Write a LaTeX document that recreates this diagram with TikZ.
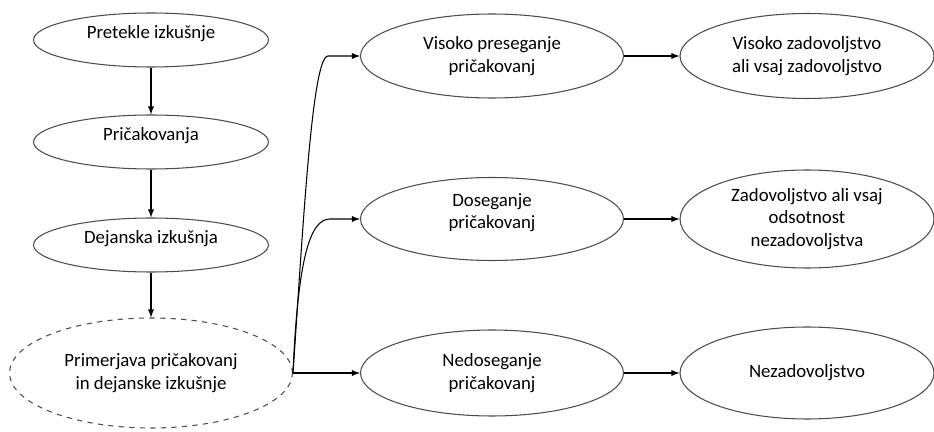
\documentclass[tikz,border=0pt]{standalone}
\usepackage{fontspec}
\setmainfont{Carlito}
\usetikzlibrary{shapes.geometric}

\begin{document}
\begin{tikzpicture}[x=0.02cm, y=-0.02cm,
		faza/.style={ellipse, draw=black!70, line width=0.6pt, inner sep=0pt, align=center,
			font=\fontsize{10.7}{12.8}\selectfont},
		visje/.style={text depth=9pt},
		puscica/.style={line width=0.6pt, -latex}]
	\useasboundingbox (0,0) rectangle (934,432);

	% Levi stolpec
	\node[faza, visje, minimum width=4.7cm, minimum height=1.08cm] (pret) at (151,40) {Pretekle izkušnje};
	\node[faza, visje, minimum width=4.7cm, minimum height=1.08cm] (pric) at (151,142) {Pričakovanja};
	\node[faza, visje, minimum width=4.7cm, minimum height=1.08cm] (dej) at (151,245) {Dejanska izkušnja};
	\node[faza, dashed, minimum width=5.66cm, minimum height=2.2cm] (prim) at (151,373) {Primerjava pričakovanj\\in dejanske izkušnje};

	% Srednji stolpec
	\node[faza, minimum width=5.26cm, minimum height=1.68cm] (vis) at (492,56) {Visoko preseganje\\pričakovanj};
	\node[faza, visje, minimum width=5.26cm, minimum height=1.66cm] (dos) at (492,219) {Doseganje\\pričakovanj};
	\node[faza, minimum width=5.26cm, minimum height=1.72cm] (ned) at (492,373) {Nedoseganje\\pričakovanj};

	% Desni stolpec
	\node[faza, minimum width=5.08cm, minimum height=1.7cm] (zad1) at (807,56) {Visoko zadovoljstvo\\ali vsaj zadovoljstvo};
	\node[faza, minimum width=5.08cm, minimum height=1.96cm] (zad2) at (807,219) {Zadovoljstvo ali vsaj\\odsotnost\\nezadovoljstva};
	\node[faza, minimum width=5.08cm, minimum height=1.84cm] (zad3) at (807,373) {Nezadovoljstvo};

	% Navpicne puscice
	\draw[puscica] (pret) -- (pric);
	\draw[puscica] (pric) -- (dej);
	\draw[puscica] (dej.south) -- (prim.north);

	% Razvejitev
	\coordinate (k1) at (328,56);
	\coordinate (k2) at (330,219);
	\draw[puscica] (prim.east) .. controls +(10,-145) and +(-16,0) .. (k1) -- (vis.west);
	\draw[puscica] (prim.east) .. controls +(5,-115) and +(-20,0) .. (k2) -- (dos.west);
	\draw[puscica] (prim.east) -- (ned.west);

	% Izidi
	\draw[puscica] (vis.east) -- (zad1.west);
	\draw[puscica] (dos.east) -- (zad2.west);
	\draw[puscica] (ned.east) -- (zad3.west);
\end{tikzpicture}
\end{document}
